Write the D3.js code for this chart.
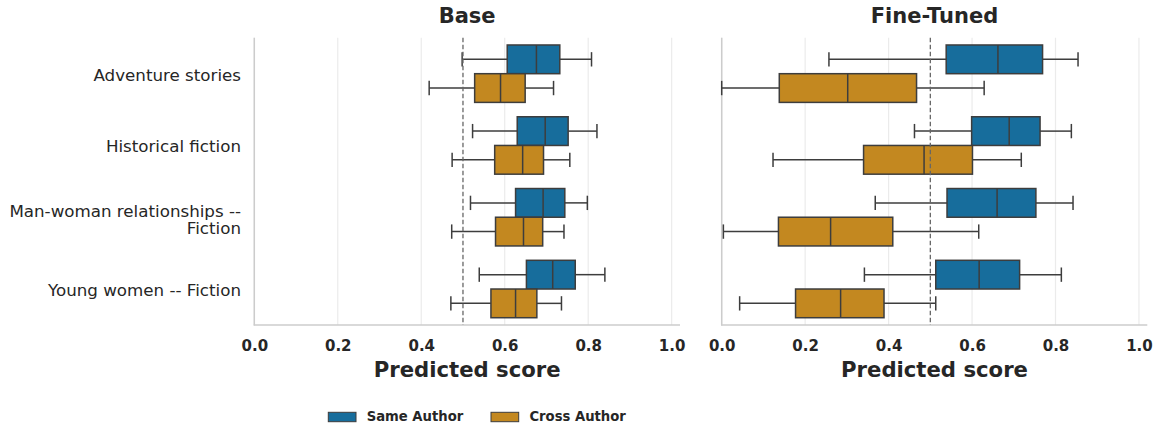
<!DOCTYPE html>
<html><head><meta charset="utf-8">
<script src="https://cdn.jsdelivr.net/npm/d3@7"></script>
<style>body{margin:0;background:#fff;} svg{display:block;font-family:"DejaVu Sans",sans-serif;}</style>
</head><body><svg id="c" width="1161" height="428"></svg>
<script>
const categories = ["Adventure stories", "Historical fiction", "Man-woman relationships --\nFiction", "Young women -- Fiction"];
const hues = ["Same Author", "Cross Author"];
const panels = ["Base", "Fine-Tuned"];
const xTicks = [0.0, 0.2, 0.4, 0.6, 0.8, 1.0];
const threshold = 0.5;
// [whiskerLow, Q1, median, Q3, whiskerHigh]
const baseSame = [
  [0.498, 0.606, 0.676, 0.732, 0.808],
  [0.523, 0.630, 0.697, 0.752, 0.821],
  [0.518, 0.626, 0.692, 0.744, 0.798],
  [0.539, 0.652, 0.715, 0.769, 0.840]
];
const baseCross = [
  [0.419, 0.528, 0.590, 0.649, 0.717],
  [0.474, 0.576, 0.643, 0.693, 0.756],
  [0.473, 0.578, 0.645, 0.691, 0.742],
  [0.471, 0.567, 0.626, 0.677, 0.736]
];
const ftSame = [
  [0.257, 0.538, 0.662, 0.769, 0.854],
  [0.462, 0.599, 0.689, 0.763, 0.838],
  [0.368, 0.540, 0.660, 0.753, 0.842],
  [0.342, 0.513, 0.617, 0.714, 0.814]
];
const ftCross = [
  [0.000, 0.138, 0.302, 0.467, 0.629],
  [0.123, 0.340, 0.485, 0.601, 0.718],
  [0.004, 0.136, 0.261, 0.410, 0.616],
  [0.043, 0.177, 0.285, 0.389, 0.513]
];
const colors = ["#176d9c", "#c38820"];
const panelData = [[baseSame, baseCross], [ftSame, ftCross]];

const svg = d3.select("#c");
const plotTop = 37.8, plotBottom = 324.9;
const xMax = 1.02;
const panelX = [[254.3, 680], [721.7, 1147.3]];
const edge = "#3d3d3d";
const textCol = "#262626";

const yCat = d3.scaleBand().domain(categories).range([plotTop, plotBottom]);
const yHue = d3.scaleBand().domain(hues).range([0, yCat.bandwidth()]).paddingOuter(0.25);

panels.forEach((title, pi) => {
  const x = d3.scaleLinear().domain([0, xMax]).range(panelX[pi]);
  const cx = (panelX[pi][0] + panelX[pi][1]) / 2;
  const g = svg.append("g");
  g.selectAll(".grid").data(xTicks).join("line")
    .attr("x1", d => x(d)).attr("x2", d => x(d))
    .attr("y1", plotTop).attr("y2", plotBottom)
    .attr("stroke", "#ebebeb").attr("stroke-width", 1.2);
  g.append("line").attr("x1", x(0)).attr("x2", x(0)).attr("y1", plotTop).attr("y2", plotBottom + 0.6)
    .attr("stroke", "#cccccc").attr("stroke-width", 1.5);
  g.append("line").attr("x1", x(0) - 0.6).attr("x2", x(xMax)).attr("y1", plotBottom).attr("y2", plotBottom)
    .attr("stroke", "#cccccc").attr("stroke-width", 1.5);
  const ax = g.append("g").attr("transform", `translate(0,${plotBottom})`)
    .call(d3.axisBottom(x).tickValues(xTicks).tickFormat(d3.format(".1f")).tickSize(0).tickPadding(0));
  ax.select(".domain").remove();
  ax.selectAll("text").attr("dy", null).attr("y", 350.7 - plotBottom)
    .attr("font-size", 15).attr("font-weight", "bold").attr("fill", textCol)
    .attr("font-family", "DejaVu Sans");
  g.append("text").attr("x", cx).attr("y", 376.7).attr("text-anchor", "middle")
    .attr("font-size", 21.2).attr("font-weight", "bold").attr("fill", textCol).text("Predicted score");
  g.append("text").attr("x", cx).attr("y", 22.7).attr("text-anchor", "middle")
    .attr("font-size", 21).attr("font-weight", "bold").attr("fill", textCol).text(title);
  hues.forEach((h, hi) => {
    const data = panelData[pi][hi];
    data.forEach((s, ci) => {
      const y0 = yCat(categories[ci]) + yHue(h);
      const bh = yHue.bandwidth();
      const yc = y0 + bh / 2;
      const cap = bh / 4;
      const bg = g.append("g");
      bg.append("line").attr("x1", x(s[0])).attr("x2", x(s[1])).attr("y1", yc).attr("y2", yc)
        .attr("stroke", edge).attr("stroke-width", 1.5);
      bg.append("line").attr("x1", x(s[3])).attr("x2", x(s[4])).attr("y1", yc).attr("y2", yc)
        .attr("stroke", edge).attr("stroke-width", 1.5);
      [s[0], s[4]].forEach(v => bg.append("line").attr("x1", x(v)).attr("x2", x(v))
        .attr("y1", yc - cap).attr("y2", yc + cap).attr("stroke", edge).attr("stroke-width", 1.5));
      bg.append("rect").attr("x", x(s[1])).attr("y", y0).attr("width", x(s[3]) - x(s[1])).attr("height", bh)
        .attr("fill", colors[hi]).attr("stroke", edge).attr("stroke-width", 1.5);
      bg.append("line").attr("x1", x(s[2])).attr("x2", x(s[2])).attr("y1", y0).attr("y2", y0 + bh)
        .attr("stroke", edge).attr("stroke-width", 1.5);
    });
  });
  g.append("line").attr("x1", x(threshold)).attr("x2", x(threshold)).attr("y1", plotTop).attr("y2", plotBottom)
    .attr("stroke", "#666").attr("stroke-width", 1.3).attr("stroke-dasharray", "4.5,2.5");
});

categories.forEach(c => {
  const lines = c.split("\n");
  const yc = yCat(c) + yCat.bandwidth() / 2;
  const t = svg.append("text").attr("text-anchor", "end").attr("font-size", 16.7).attr("fill", textCol);
  lines.forEach((ln, i) => {
    const yb = lines.length === 1 ? yc + 7 : yc - 0.6 + i * 17.6;
    t.append("tspan").attr("x", 241).attr("y", yb).text(ln);
  });
});

const lg = svg.append("g");
const legX = [328.3, 491];
hues.forEach((h, i) => {
  lg.append("rect").attr("x", legX[i]).attr("y", 412.3).attr("width", 27.7).attr("height", 9.4)
    .attr("fill", colors[i]).attr("stroke", edge).attr("stroke-width", 1);
  lg.append("text").attr("x", legX[i] + 38.4).attr("y", 420.7).attr("font-size", 13.2).attr("font-weight", "bold")
    .attr("fill", textCol).text(h);
});
</script></body></html>
